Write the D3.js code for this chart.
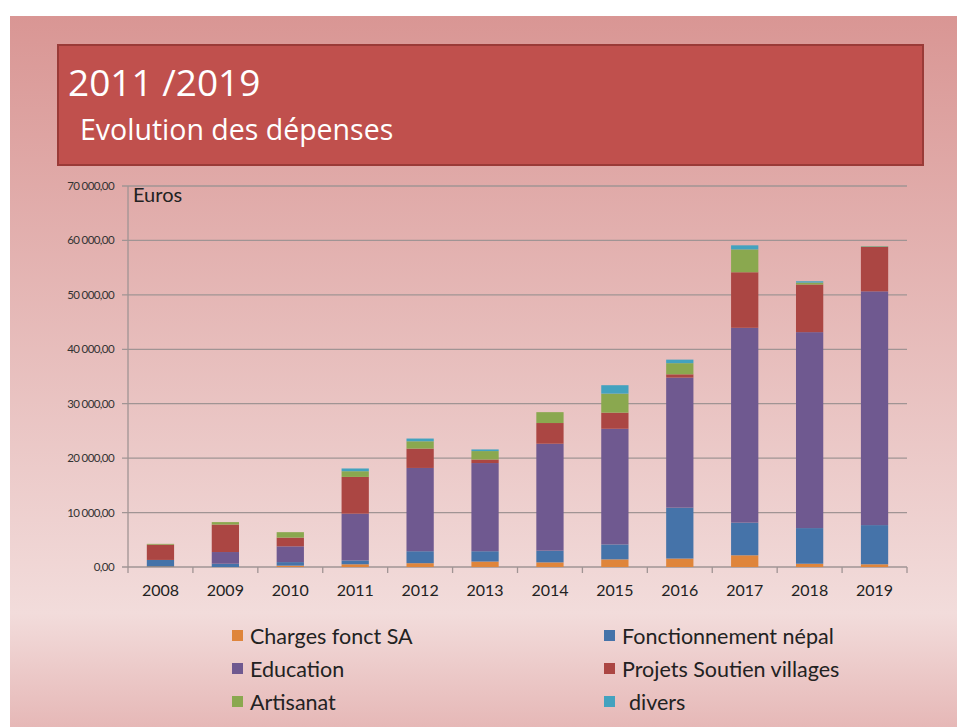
<!DOCTYPE html>
<html>
<head>
<meta charset="utf-8">
<script src="https://cdn.jsdelivr.net/npm/d3@7"></script>
<style>
  body { margin: 0; background: #fff; }
  svg { display: block; }
</style>
</head>
<body>
<svg width="957" height="727"></svg>
<script>
// Categories and series (euros)
const years = ["2008", "2009", "2010", "2011", "2012", "2013", "2014", "2015", "2016", "2017", "2018", "2019"];
const chargesFonct   = [100, 0, 250, 500, 700, 1000, 850, 1400, 1550, 2150, 600, 500];
const fonctNepal     = [1200, 600, 650, 700, 2200, 1900, 2150, 2750, 9350, 6000, 6550, 7200];
const education      = [0, 2150, 2900, 8600, 15300, 16200, 19650, 21250, 23900, 35800, 36000, 42950];
const projetsVillage = [2800, 5050, 1600, 6750, 3550, 650, 3800, 2950, 600, 10200, 8750, 8150];
const artisanat      = [150, 450, 1000, 1050, 1350, 1550, 2000, 3500, 2050, 4200, 350, 100];
const divers         = [0, 0, 0, 500, 500, 300, 0, 1550, 650, 750, 250, 50];
const yTicks = [0, 10000, 20000, 30000, 40000, 50000, 60000, 70000];

const seriesNames = ["Charges fonct SA", "Fonctionnement népal", "Education", "Projets Soutien villages", "Artisanat", "divers"];
const seriesValues = [chargesFonct, fonctNepal, education, projetsVillage, artisanat, divers];
const colors = ["#df853b", "#4573a9", "#6f5990", "#ab4643", "#8aa84f", "#43a2bf"];

const rows = years.map((y, i) => {
  const r = { year: y };
  seriesNames.forEach((s, k) => r[s] = seriesValues[k][i]);
  return r;
});

const svg = d3.select("svg");

// slide background
const defs = svg.append("defs");
const grad = defs.append("linearGradient").attr("id", "bg")
  .attr("x1", 0).attr("y1", 0).attr("x2", 0).attr("y2", 1);
grad.append("stop").attr("offset", "0%").attr("stop-color", "#d99694");
grad.append("stop").attr("offset", "84%").attr("stop-color", "#f2dcdb");
grad.append("stop").attr("offset", "100%").attr("stop-color", "#e6b8b7");
svg.append("rect").attr("x", 10).attr("y", 16).attr("width", 947).attr("height", 711)
  .attr("fill", "url(#bg)");

// title box
svg.append("rect").attr("x", 58).attr("y", 45).attr("width", 865).attr("height", 120)
  .attr("fill", "#c0504d").attr("stroke", "#9a3a37").attr("stroke-width", 2);
svg.append("text").attr("x", 68).attr("y", 96)
  .style("font-family", "Open Sans").style("font-size", "37px").attr("fill", "#fff")
  .text("2011 /2019");
svg.append("text").attr("x", 80).attr("y", 140)
  .style("font-family", "Open Sans").style("font-size", "28.5px").attr("fill", "#fff")
  .text("Evolution des dépenses");

// chart
const plotL = 128, plotR = 907, plotT = 186, plotB = 567;
const x = d3.scaleBand().domain(years).range([plotL, plotR]).paddingInner(0.58).paddingOuter(0.29);
const xTick = d3.scaleBand().domain(years).range([plotL, plotR]);
const y = d3.scaleLinear().domain([0, 70000]).range([plotB, plotT]);

const g = svg.append("g");

g.selectAll(".grid")
  .data(yTicks)
  .enter().append("line")
  .attr("x1", plotL - 6).attr("x2", plotR)
  .attr("y1", d => y(d)).attr("y2", d => y(d))
  .attr("stroke", "#a09494").attr("stroke-width", 1.3);

g.selectAll(".ylab")
  .data(yTicks)
  .enter().append("text")
  .attr("x", 114).attr("y", d => y(d) + 4)
  .attr("text-anchor", "end")
  .style("font-family", "Lato").style("font-size", "11.5px").style("letter-spacing", "-0.6px")
  .attr("fill", "#333")
  .text(d => d3.format(",.2f")(d).replace(/,/g, " ").replace(".", ","));

g.append("line").attr("x1", plotL).attr("x2", plotL).attr("y1", plotT).attr("y2", plotB + 6)
  .attr("stroke", "#a09494").attr("stroke-width", 1.3);

g.selectAll(".xtick")
  .data(years)
  .enter().append("line")
  .attr("x1", d => xTick(d) + xTick.bandwidth())
  .attr("x2", d => xTick(d) + xTick.bandwidth())
  .attr("y1", plotB).attr("y2", plotB + 6)
  .attr("stroke", "#a09494").attr("stroke-width", 1.3);

g.selectAll(".xlab")
  .data(years)
  .enter().append("text")
  .attr("x", d => xTick(d) + xTick.bandwidth() / 2).attr("y", 596)
  .attr("text-anchor", "middle")
  .style("font-family", "Lato").style("font-size", "16px")
  .attr("fill", "#222")
  .text(d => d);

g.append("text").attr("x", 133).attr("y", 202)
  .style("font-family", "Lato").style("font-size", "20px").attr("fill", "#222")
  .text("Euros");

const stack = d3.stack().keys(seriesNames);
const layers = stack(rows);

g.selectAll(".layer")
  .data(layers)
  .enter().append("g")
  .attr("fill", (d, i) => colors[i])
  .selectAll("rect")
  .data(d => d)
  .enter().append("rect")
  .attr("x", d => x(d.data.year))
  .attr("width", x.bandwidth())
  .attr("y", d => y(d[1]))
  .attr("height", d => y(d[0]) - y(d[1]));

// legend
const legend = svg.append("g").selectAll("g")
  .data(seriesNames)
  .enter().append("g")
  .attr("transform", (d, i) => `translate(${i % 2 === 0 ? 232 : 604},${636 + Math.floor(i / 2) * 33})`);

legend.append("rect").attr("x", 0).attr("y", -6).attr("width", 11).attr("height", 11)
  .attr("fill", (d, i) => colors[i]);

legend.append("text").attr("x", (d, i) => i === 5 ? 25 : 18).attr("y", 7.5)
  .style("font-family", "Lato").style("font-size", "21.5px").attr("fill", "#222")
  .text(d => d);
</script>
</body>
</html>
